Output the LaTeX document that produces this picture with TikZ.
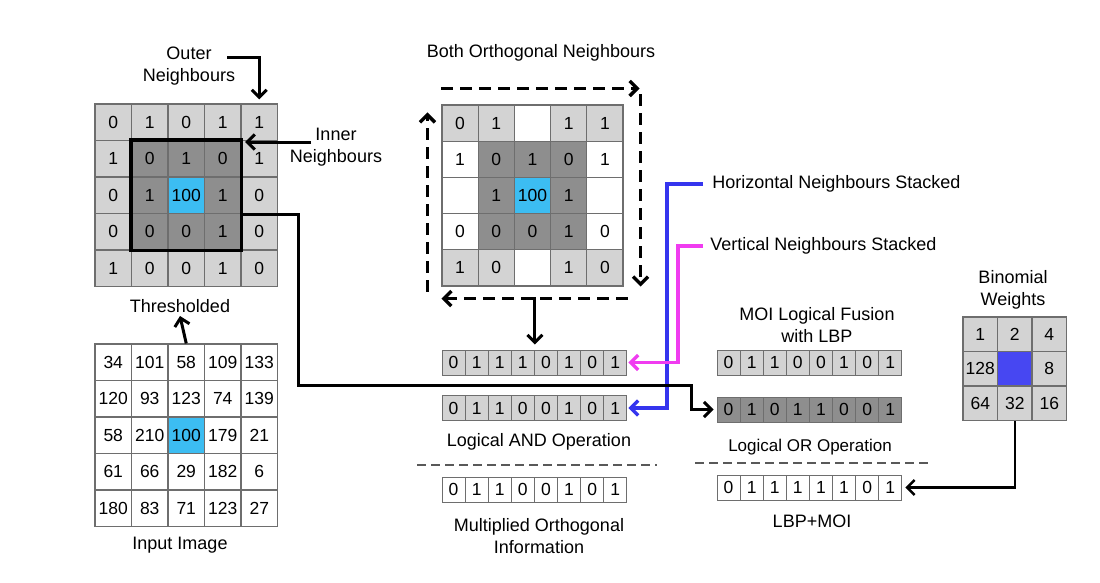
\documentclass[tikz,border=0pt]{standalone}
\usepackage{fontspec}
\setmainfont{Liberation Sans}
\usetikzlibrary{arrows.meta,fit}
\definecolor{cl}{HTML}{D3D3D3}
\definecolor{cd}{HTML}{8E8E8E}
\definecolor{cc}{HTML}{3CBDF2}
\definecolor{cw}{HTML}{FFFFFF}
\definecolor{cb}{HTML}{4747F2}
\definecolor{gridc}{HTML}{6E6E6E}
\definecolor{vmag}{HTML}{F03CF0}
\definecolor{hblue}{HTML}{3535EE}
\begin{document}
\begin{tikzpicture}[x=1pt, y=-1pt, thick,
  cell/.style={rectangle, draw=gridc, line width=1.1pt, inner sep=0pt, minimum width=36.5pt, minimum height=36.5pt, font=\fontsize{17.5}{20}\selectfont},
  bit/.style={rectangle, draw=gridc, line width=1pt, inner sep=0pt, minimum width=23.1pt, minimum height=25pt, font=\fontsize{17.5}{20}\selectfont},
  lbl/.style={rectangle, draw=none, align=center, inner sep=1pt, font=\fontsize{18}{22.5}\selectfont},
  conn/.style={-{Straight Barb[length=7.5pt, width=15pt]}, line width=3pt},
  dasharr/.style={conn, line width=3.4pt, dash pattern=on 12pt off 7pt},
  sepline/.style={draw=black!65, line width=1.7pt, dash pattern=on 9pt off 5pt}]
\useasboundingbox (0,0) rectangle (1100,582);
%\draw[help lines, step=50pt] (0,0) grid (1100,582);
%%%%%%%%%%%%%%%%%%%%%%%%%%%%%%% Thresholded grid
\foreach \row [count=\ri from 0] in {{0/l,1/l,0/l,1/l,1/l},{1/l,0/d,1/d,0/d,1/l},{0/l,1/d,100/c,1/d,0/l},{0/l,0/d,0/d,1/d,0/l},{1/l,0/l,0/l,1/l,0/l}}
  \foreach \v/\f [count=\ci from 0] in \row
    \node[cell, fill=c\f](th-\ri-\ci) at (113.25+36.5*\ci, 122.25+36.5*\ri){\v};
\node[draw, line width=3.2pt, inner sep=0pt, fit=(th-1-1)(th-3-3)](inner){};
\node[lbl](outer) at (189,66){Outer\\Neighbours};
\node[lbl](innerlbl) at (336,147){Inner\\Neighbours};
\coordinate (outerstart) at (227,57);
\draw[conn] (outerstart) -| ([yshift=4pt]th-0-4.north);
\coordinate (innerstart) at (311,142);
\draw[conn] (innerstart) -- ([xshift=2pt]inner.east |- innerstart);
%%%%%%%%%%%%%%%%%%%%%%%%%%%%%%% Input image
\foreach \row [count=\ri from 0] in {{34/w,101/w,58/w,109/w,133/w},{120/w,93/w,123/w,74/w,139/w},{58/w,210/w,100/c,179/w,21/w},{61/w,66/w,29/w,182/w,6/w},{180/w,83/w,71/w,123/w,27/w}}
  \foreach \v/\f [count=\ci from 0] in \row
    \node[cell, fill=c\f](in-\ri-\ci) at (113.25+36.5*\ci, 362.25+36.5*\ri){\v};
\node[lbl](thr) at (180,306){Thresholded};
\node[lbl](inimg) at (180,545){Input Image};
\draw[conn] (in-0-2.north) -- ([yshift=-2pt]thr.south);
%%%%%%%%%%%%%%%%%%%%%%%%%%%%%%% Both orthogonal neighbours
\foreach \row [count=\ri from 0] in {{0/l,1/l,{}/w,1/l,1/l},{1/w,0/d,1/d,0/d,1/w},{{}/w,1/d,100/c,1/d,{}/w},{0/w,0/d,0/d,1/d,0/w},{1/l,0/l,{}/w,1/l,0/l}}
  \foreach \v/\f [count=\ci from 0] in \row
    \node[cell, minimum width=36.2pt, minimum height=36.2pt, fill=c\f](mg-\ri-\ci) at (460.1+36.2*\ci, 123.1+36.2*\ri){\v};
\node[lbl](both) at (541,53){Both Orthogonal Neighbours};
\draw[dasharr] ([yshift=16pt]mg-0-0.north west) -- ([xshift=16pt, yshift=16pt]mg-0-4.north east);
\draw[dasharr] ([xshift=17pt, yshift=10pt]mg-0-4.north east) -- ([xshift=17pt]mg-4-4.south east);
\draw[dasharr] ([xshift=4pt, yshift=-12pt]mg-4-4.south east) -- ([yshift=-12pt]mg-4-0.south west);
\draw[dasharr] ([xshift=-14pt, yshift=-5pt]mg-4-0.south west) -- ([xshift=-14pt, yshift=-8pt]mg-0-0.north west);
%%%%%%%%%%%%%%%%%%%%%%%%%%%%%%% Stacked neighbours and AND
\foreach \v [count=\ci] in {0,1,1,1,0,1,0,1}
  \node[bit, fill=cl](a1-\ci) at (430.45+23.1*\ci, 362.5){\v};
\foreach \v [count=\ci] in {0,1,1,0,0,1,0,1}
  \node[bit, fill=cl](a2-\ci) at (430.45+23.1*\ci, 408){\v};
\foreach \v [count=\ci] in {0,1,1,0,0,1,0,1}
  \node[bit, fill=white](a3-\ci) at (430.45+23.1*\ci, 489.5){\v};
\draw[conn] (a1-4.north east |- 0,297) -- ([yshift=5pt]a1-4.north east);
\node[lbl, anchor=west](horiz) at (711,184){Horizontal Neighbours Stacked};
\node[lbl, anchor=west](vert) at (709,246){Vertical Neighbours Stacked};
\draw[conn, draw=hblue, line width=3.4pt] ([xshift=-8pt]horiz.west) -- ++(-36,0) |- ([xshift=1pt]a2-8.east);
\draw[conn, draw=vmag, line width=3.4pt] ([xshift=-6pt]vert.west) -- ++(-25,0) |- ([xshift=1pt]a1-8.east);
\node[lbl](andop) at (539,442){Logical AND Operation};
\draw[sepline] (417,465) -- (657,465);
\node[lbl](moi) at (539,536){Multiplied Orthogonal\\Information};
%%%%%%%%%%%%%%%%%%%%%%%%%%%%%%% Fusion with LBP
\foreach \v [count=\ci] in {0,1,1,0,0,1,0,1}
  \node[bit, fill=cl](b1-\ci) at (705.45+23.1*\ci, 362.5){\v};
\foreach \v [count=\ci] in {0,1,0,1,1,0,0,1}
  \node[bit, fill=cd](b2-\ci) at (705.45+23.1*\ci, 409.5){\v};
\foreach \v [count=\ci] in {0,1,1,1,1,1,0,1}
  \node[bit, fill=white](b3-\ci) at (705.45+23.1*\ci, 487.5){\v};
\node[lbl](fusion) at (817,325){MOI Logical Fusion\\with LBP};
\node[lbl, font=\fontsize{17}{20}\selectfont](orop) at (810,447){Logical OR Operation};
\draw[sepline] (695,463) -- (928,463);
\node[lbl](lbpmoi) at (812,521){LBP+MOI};
\coordinate (bendA) at (298,385);
\coordinate (bendB) at (691,409.5);
\draw[conn] (th-2-3.south east) -| (bendA) -| (bendB) -- ([xshift=-3pt]b2-1.west);
%%%%%%%%%%%%%%%%%%%%%%%%%%%%%%% Binomial weights
\foreach \row [count=\ri from 0] in {{1/l,2/l,4/l},{128/l,{}/b,8/l},{64/l,32/l,16/l}}
  \foreach \v/\f [count=\ci from 0] in \row
    \node[cell, minimum width=34.5pt, minimum height=34.5pt, fill=c\f](bw-\ri-\ci) at (980.25+34.5*\ci, 334.25+34.5*\ri){\v};
\node[lbl](binw) at (1013,290){Binomial\\Weights};
\draw[conn, line width=2.5pt] (bw-2-1.south) |- ([xshift=3pt]b3-8.east);
\end{tikzpicture}
\end{document}
